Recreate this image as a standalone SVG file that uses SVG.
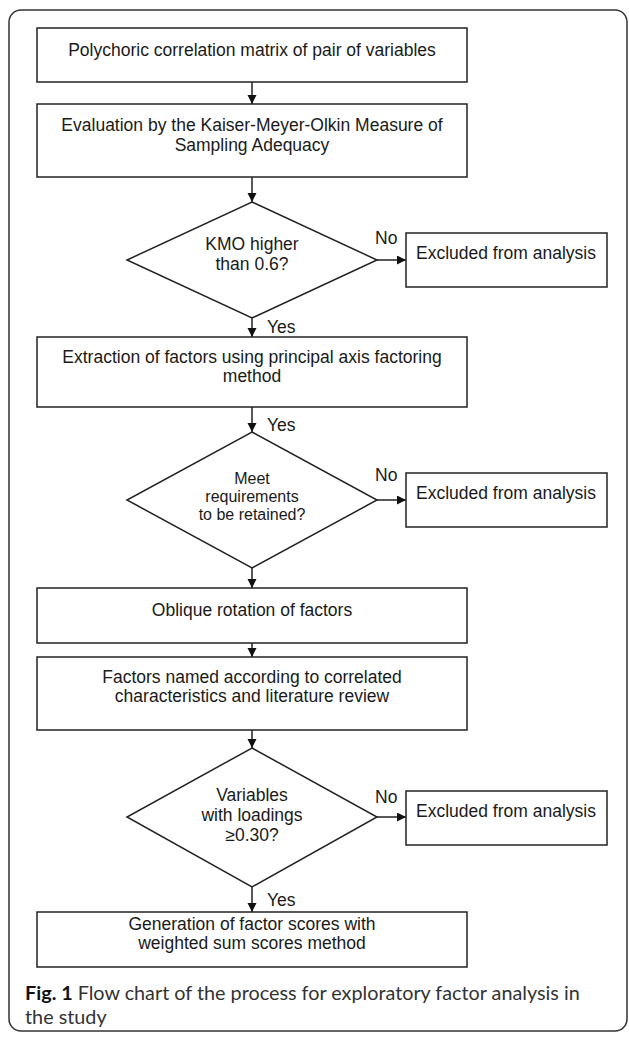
<svg xmlns="http://www.w3.org/2000/svg" width="629" height="1037" viewBox="0 0 629 1037">
<style>
.box{fill:#fff;stroke:#222;stroke-width:1.5}
.t{font-family:"Liberation Sans",Arial,sans-serif;font-size:17.5px;fill:#1a1a1a;text-anchor:middle}
.s{font-size:16px}
.lbl{font-family:"Liberation Sans",Arial,sans-serif;font-size:17.5px;fill:#1a1a1a}
.cap{font-family:Lato,"Liberation Sans",sans-serif;font-size:19.8px;fill:#333}
.edge{stroke:#222;stroke-width:1.5;fill:none;marker-end:url(#ah)}
</style>
<defs>
<marker id="ah" markerUnits="userSpaceOnUse" markerWidth="10" markerHeight="10" refX="9" refY="4.5" orient="auto"><path d="M0,0 L9,4.5 L0,9 Z" fill="#111"/></marker>
</defs>
<rect x="9" y="10" width="618" height="1021" rx="12" fill="none" stroke="#333" stroke-width="1.5"/>
<g id="connectors">
<line class="edge" x1="252" y1="82" x2="252" y2="104"/>
<line class="edge" x1="252" y1="177" x2="252" y2="202"/>
<line class="edge" x1="377" y1="260" x2="406" y2="260"/>
<line class="edge" x1="252" y1="318" x2="252" y2="337"/>
<line class="edge" x1="252" y1="407" x2="252" y2="432"/>
<line class="edge" x1="377" y1="500" x2="406" y2="500"/>
<line class="edge" x1="252" y1="568" x2="252" y2="588"/>
<line class="edge" x1="252" y1="643" x2="252" y2="657"/>
<line class="edge" x1="252" y1="730" x2="252" y2="748"/>
<line class="edge" x1="377" y1="817" x2="406" y2="817"/>
<line class="edge" x1="252" y1="887" x2="252" y2="912"/>
<text class="lbl" x="375" y="244">No</text>
<text class="lbl" x="267" y="333">Yes</text>
<text class="lbl" x="267" y="431">Yes</text>
<text class="lbl" x="375" y="481">No</text>
<text class="lbl" x="375" y="803">No</text>
<text class="lbl" x="267" y="906">Yes</text>
</g>
<g id="n1"><rect class="box" x="37" y="28" width="430" height="54"/><text class="t" x="252" y="56">Polychoric correlation matrix of pair of variables</text></g>
<g id="n2"><rect class="box" x="37" y="104" width="430" height="73"/><text class="t" x="252" y="131">Evaluation by the Kaiser-Meyer-Olkin Measure of</text><text class="t" x="252" y="151">Sampling Adequacy</text></g>
<g id="d1"><polygon class="box" points="252,202 377,260 252,318 127,260"/><text class="t" x="252" y="250">KMO higher</text><text class="t" x="252" y="269.6">than 0.6?</text></g>
<g id="x1"><rect class="box" x="406" y="233" width="201" height="54"/><text class="t" x="506" y="259">Excluded from analysis</text></g>
<g id="n3"><rect class="box" x="37" y="337" width="430" height="70"/><text class="t" x="252" y="362.5">Extraction of factors using principal axis factoring</text><text class="t" x="252" y="382.1">method</text></g>
<g id="d2"><polygon class="box" points="252,432 377,500 252,568 127,500"/><text class="t s" x="252" y="484">Meet</text><text class="t s" x="252" y="502">requirements</text><text class="t s" x="252" y="520">to be retained?</text></g>
<g id="x2"><rect class="box" x="406" y="473" width="201" height="54"/><text class="t" x="506" y="499">Excluded from analysis</text></g>
<g id="n4"><rect class="box" x="37" y="588" width="430" height="55"/><text class="t" x="252" y="616">Oblique rotation of factors</text></g>
<g id="n5"><rect class="box" x="37" y="657" width="430" height="73"/><text class="t" x="252" y="682.5">Factors named according to correlated</text><text class="t" x="252" y="702.1">characteristics and literature review</text></g>
<g id="d3"><polygon class="box" points="252,748 377,817 252,887 127,817"/><text class="t" x="252" y="801.4">Variables</text><text class="t" x="252" y="821">with loadings</text><text class="t" x="252" y="840.6">≥0.30?</text></g>
<g id="x3"><rect class="box" x="406" y="791" width="201" height="54"/><text class="t" x="506" y="817">Excluded from analysis</text></g>
<g id="n6"><rect class="box" x="37" y="912" width="430" height="55"/><text class="t" x="252" y="929.7">Generation of factor scores with</text><text class="t" x="252" y="949.3">weighted sum scores method</text></g>
<text class="cap" x="25" y="1000"><tspan font-weight="bold" fill="#111">Fig. 1</tspan> Flow chart of the process for exploratory factor analysis in</text>
<text class="cap" x="25" y="1024">the study</text>
</svg>
